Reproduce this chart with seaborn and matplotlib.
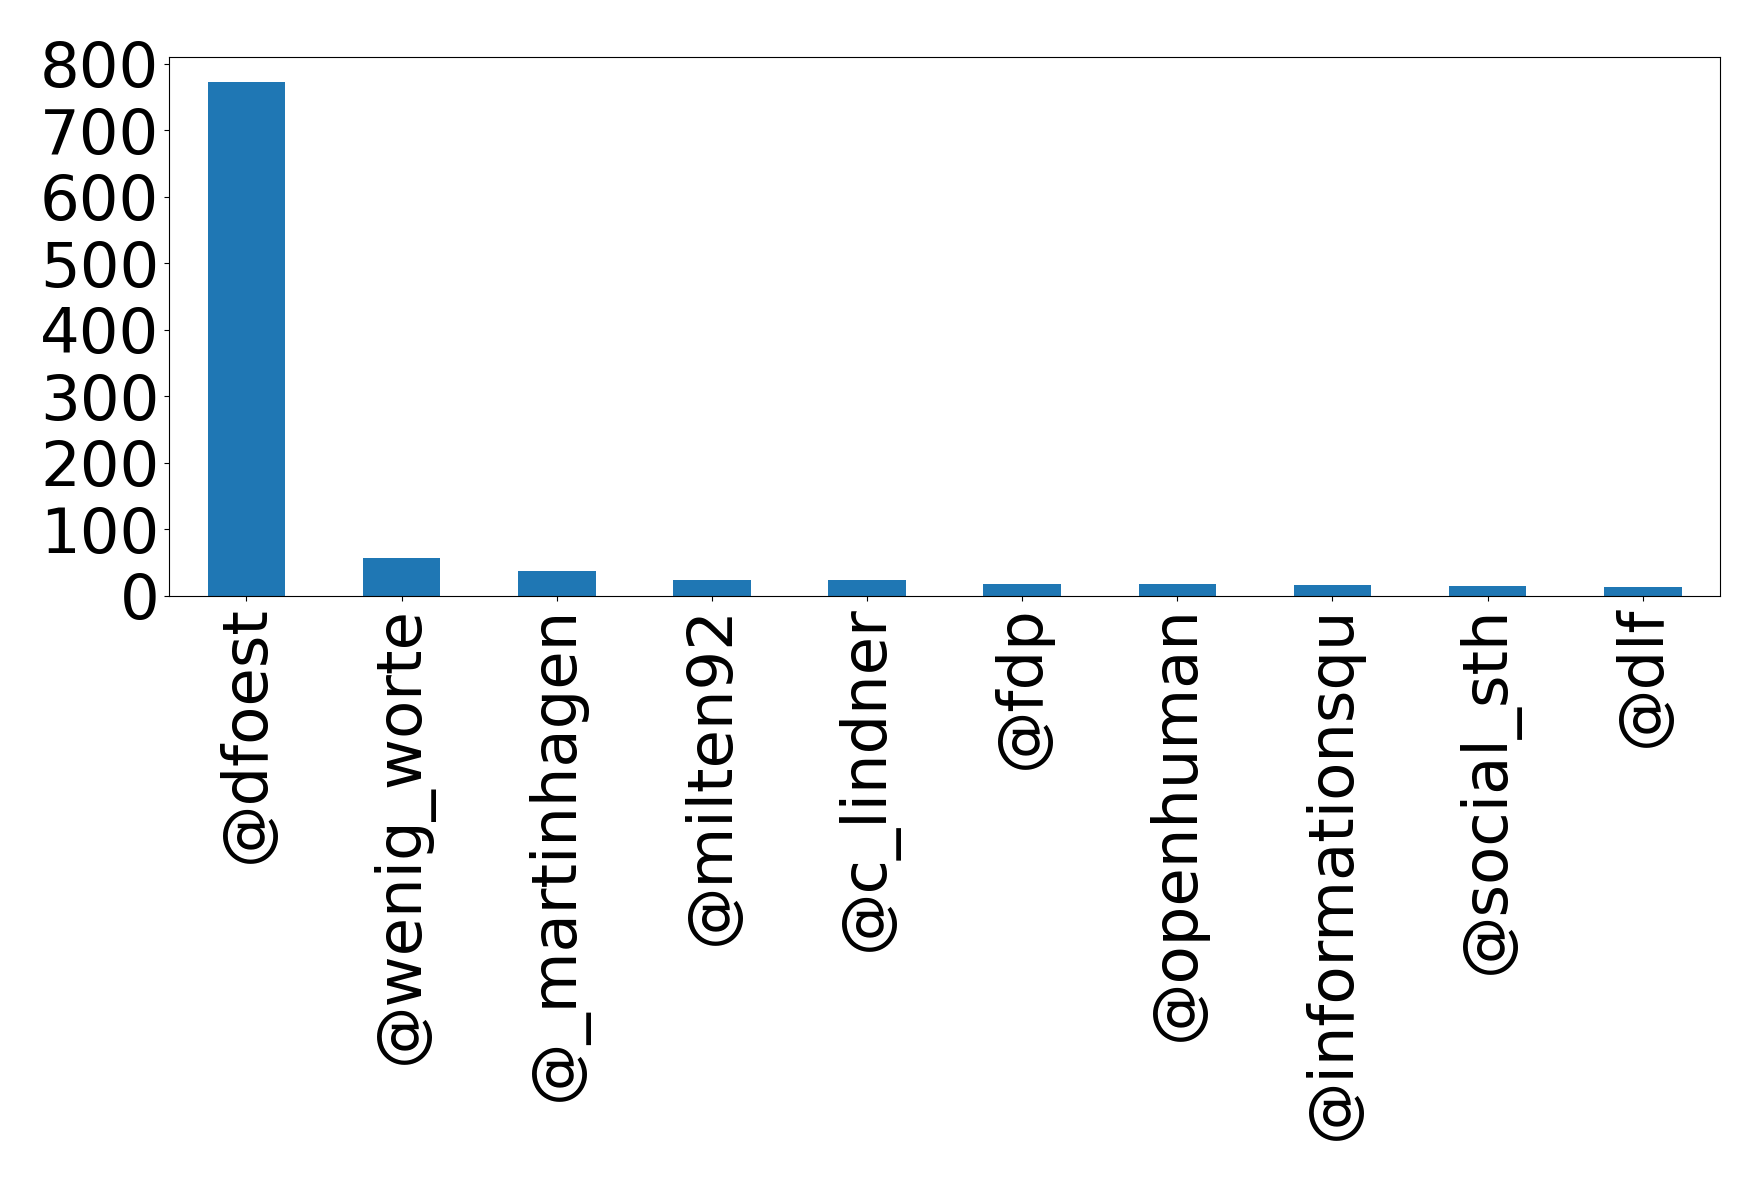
""" Top mentioned accounts bar chart """

import matplotlib
matplotlib.use("Agg")
import matplotlib.pyplot as plt
import pandas as pd
import seaborn as sns

accounts = [
    "@dfoest", "@wenig_worte", "@_martinhagen", "@milten92", "@c_lindner",
    "@fdp", "@openhuman", "@informationsqu", "@social_sth", "@dlf",
]
mentions = [772, 57, 38, 24, 24, 18, 18, 17, 15, 14]

df = pd.DataFrame({"account": accounts, "mentions": mentions})

fig, ax = plt.subplots(figsize=(17.59, 11.8), dpi=100)
fig.subplots_adjust(left=0.096, right=0.978, top=0.952, bottom=0.495)

# pandas-like bar plot
sns.barplot(data=df, x="account", y="mentions", color="#1f77b4",
            saturation=1, width=0.5, ax=ax)

ax.set_xlabel("")
ax.set_ylabel("")
ax.set_xlim(-0.5, len(accounts) - 0.5)
ax.set_yticks(range(0, 801, 100))
ax.tick_params(axis="both", labelsize=45)
plt.setp(ax.get_xticklabels(), rotation=90)

fig.savefig("out.png", dpi=100)
